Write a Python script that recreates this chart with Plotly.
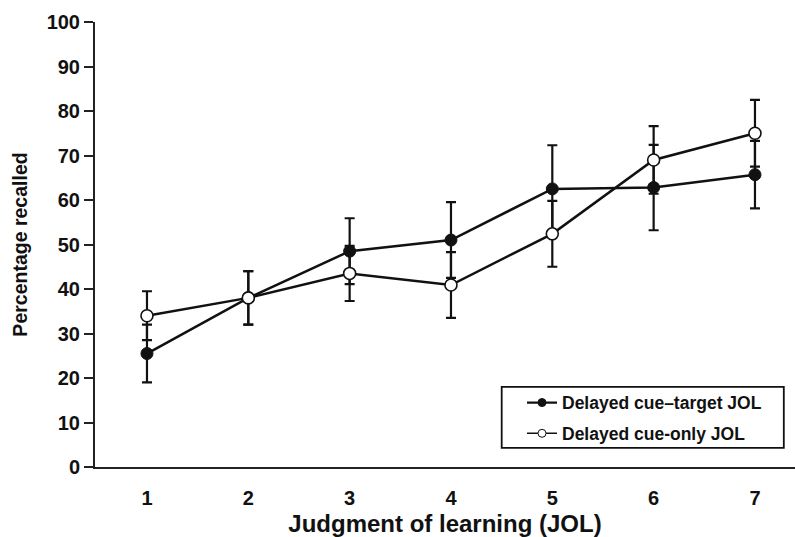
import plotly.graph_objects as go

# Judgment-of-learning levels
jol = [1, 2, 3, 4, 5, 6, 7]

# Percentage recalled, delayed cue-target JOL (filled markers)
cue_target = [25.5, 38.0, 48.5, 51.0, 62.5, 62.8, 65.7]
cue_target_err = [6.5, 6.0, 7.4, 8.5, 9.8, 9.6, 7.6]

# Percentage recalled, delayed cue-only JOL (open markers)
cue_only = [34.0, 38.0, 43.5, 40.9, 52.4, 69.0, 75.0]
cue_only_err = [5.5, 6.0, 6.2, 7.4, 7.4, 7.6, 7.5]

series_names = ["Delayed cue\u2013target JOL", "Delayed cue-only JOL"]
y_ticks = [0, 10, 20, 30, 40, 50, 60, 70, 80, 90, 100]

FONT = "Arial, Liberation Sans, sans-serif"
INK = "#111111"

fig = go.Figure()

fig.add_trace(go.Scatter(
    x=jol, y=cue_target, mode="lines+markers",
    name=series_names[0], showlegend=False,
    line=dict(color=INK, width=2.5),
    marker=dict(symbol="circle", size=12, color=INK,
                line=dict(color=INK, width=1)),
    error_y=dict(type="data", array=cue_target_err, visible=True,
                 color=INK, thickness=2.2, width=5),
))

fig.add_trace(go.Scatter(
    x=jol, y=cue_only, mode="lines+markers",
    name=series_names[1], showlegend=False,
    line=dict(color=INK, width=2.5),
    marker=dict(symbol="circle", size=12, color="white",
                line=dict(color=INK, width=1.6)),
    error_y=dict(type="data", array=cue_only_err, visible=True,
                 color=INK, thickness=2.2, width=5),
))

# legend keys with smaller symbols than the plotted markers
fig.add_trace(go.Scatter(
    x=[None], y=[None], mode="lines+markers", name=series_names[0],
    legendgroup="a",
    line=dict(color=INK, width=2.2),
    marker=dict(symbol="circle", size=8, color=INK, line=dict(color=INK, width=1)),
))
fig.add_trace(go.Scatter(
    x=[None], y=[None], mode="lines+markers", name=series_names[1],
    legendgroup="b",
    line=dict(color=INK, width=1.5),
    marker=dict(symbol="circle", size=8, color="white", line=dict(color=INK, width=1)),
))

# frame around the legend
fig.add_shape(type="rect", xref="paper", yref="paper",
              x0=0.581, x1=0.984, y0=0.043, y1=0.180,
              line=dict(color=INK, width=1.8), fillcolor="white", layer="below")

fig.update_layout(
    width=795, height=537,
    margin=dict(l=95, r=0, t=22, b=70),
    paper_bgcolor="white", plot_bgcolor="white",
    font=dict(family=FONT, color=INK),
    showlegend=True,
    legend=dict(
        x=0.61, y=0.185, xanchor="left", yanchor="top",
        bgcolor="rgba(0,0,0,0)", borderwidth=0,
        font=dict(family=FONT, size=17.5, weight="bold", color=INK),
        itemsizing="trace", traceorder="grouped", tracegroupgap=5,
    ),
    xaxis=dict(
        range=[0.487, 7.395], tickmode="array", tickvals=jol,
        ticks="", showgrid=False, zeroline=False, automargin=False,
        showline=True, linecolor="#222222", linewidth=2,
        tickfont=dict(family=FONT, size=20, weight="bold", color=INK),
        ticklabelstandoff=12,
        title=dict(text="Judgment of learning (JOL)", standoff=20,
                   font=dict(family=FONT, size=24, weight="bold", color=INK)),
    ),
    yaxis=dict(
        range=[0, 100], tickmode="array", tickvals=y_ticks,
        ticks="outside", ticklen=9, tickwidth=2, tickcolor="#222222",
        showgrid=False, zeroline=False, automargin=False,
        showline=True, linecolor="#222222", linewidth=2,
        tickfont=dict(family=FONT, size=20, weight="bold", color=INK),
        title=dict(text="Percentage recalled", standoff=14,
                   font=dict(family=FONT, size=19.5, weight="bold", color=INK)),
    ),
)

fig.write_html("out.html")
